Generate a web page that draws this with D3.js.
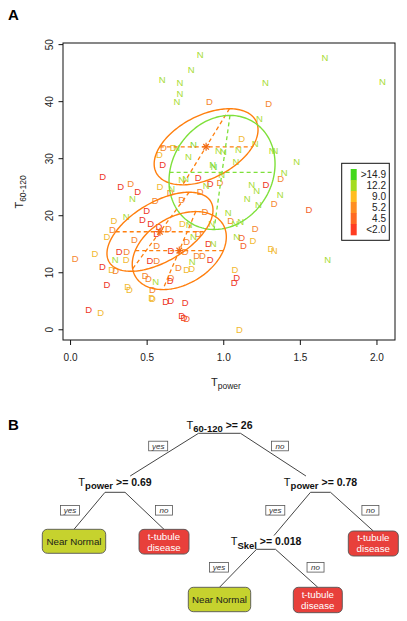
<!DOCTYPE html>
<html><head><meta charset="utf-8">
<script src="https://cdn.jsdelivr.net/npm/d3@7"></script>
<style>body{margin:0;background:#fff} svg{display:block;font-family:"Liberation Sans",Arial,Helvetica,sans-serif}</style>
</head><body><svg id="c" width="407" height="621"></svg>
<script>
// ---------- DATA ----------
// Diseased ("D") samples: Tpower, T60-120, colour level (0 red <2.0 ... 3 yellow 9.0)
const dX = [0.909,1.297,1.121,0.609,0.674,0.583,0.605,0.837,0.213,0.331,0.396,0.442,0.587,0.914,0.979,0.653,0.849,0.729,0.555,1.279,1.375,1.332,1.560,0.881,0.501,0.472,0.527,0.581,0.287,0.276,0.642,0.733,1.049,1.208,0.566,0.837,0.762,0.240,0.420,0.566,0.659,0.751,0.827,0.864,0.914,0.320,0.370,0.366,0.522,0.566,0.707,0.762,0.794,0.163,0.033,0.272,0.298,0.211,0.490,0.511,0.659,0.653,0.377,0.387,0.240,0.537,0.533,0.537,0.625,0.657,0.751,0.122,0.200,0.729,0.744,0.762,0.903,1.121,1.193,1.131,1.312,1.077,1.088,1.072,1.105];
const dY = [40.0,39.6,33.4,31.9,31.8,30.6,28.8,26.6,26.7,25.0,25.5,24.1,25.0,25.6,25.8,23.9,24.1,22.7,22.6,25.4,26.5,22.1,21.0,20.6,20.9,19.3,18.6,18.0,19.1,17.5,17.7,18.6,19.0,17.6,16.8,16.7,15.4,16.2,15.8,14.6,13.8,13.7,13.0,13.0,12.3,13.7,13.6,12.3,12.0,12.1,10.9,10.5,10.7,13.2,12.4,10.4,10.3,11.0,9.5,8.9,9.1,8.6,7.5,7.0,7.9,6.9,5.6,5.3,4.8,5.0,4.6,3.5,2.9,2.4,2.1,1.9,15.1,16.0,15.5,14.6,14.2,10.4,9.1,8.2,0.0];
const dLevel = [2,2,3,2,3,3,0,0,0,0,2,0,3,0,2,2,2,2,2,0,2,2,1,2,0,0,0,0,3,2,2,3,2,2,0,2,2,3,2,2,0,2,2,2,0,0,2,3,0,2,2,3,3,3,2,3,2,0,2,2,2,0,3,3,0,2,3,3,0,0,0,0,3,0,0,1,0,1,3,1,3,3,0,0,3];
// Near-normal ("N") samples
const nX = [0.849,0.790,0.601,0.718,0.718,0.698,1.664,2.039,1.275,1.236,1.208,0.696,0.805,0.772,0.968,1.001,1.099,1.320,1.338,1.480,1.082,0.931,0.940,0.990,0.729,0.755,1.397,1.186,1.219,0.888,0.664,1.371,1.157,1.229,0.407,0.366,1.033,1.077,1.114,0.925,0.777,0.805,1.088,0.935,0.294,0.798,0.559,1.332,1.682];
const nY = [48.2,45.5,43.7,43.2,41.3,39.9,47.6,43.4,43.2,36.9,32.6,31.8,32.3,30.3,31.3,31.2,31.5,31.3,31.3,29.4,29.4,28.8,28.6,27.2,26.2,26.5,27.5,25.3,24.4,25.2,24.7,23.6,23.0,21.8,22.9,19.8,20.4,18.6,18.9,18.5,18.3,16.2,16.2,15.0,12.2,11.9,8.4,13.8,12.2];
const nLevel = [4,4,4,4,4,4,4,4,4,4,4,4,5,4,4,4,4,4,4,4,4,5,5,4,4,4,4,4,4,4,4,4,4,4,4,4,4,4,4,4,4,4,4,4,4,4,4,3,4];

// Data ellipses: centre, x/y radius, correlation
const ellCx = [0.888, 0.992, 0.587, 0.713];
const ellCy = [32.0, 27.5, 17.1, 13.8];
const ellAx = [0.339, 0.346, 0.346, 0.307];
const ellAy = [6.67, 10.0, 6.93, 6.84];
const ellR  = [0.45, 0.15, 0.55, 0.35];
const ellGroup = ["D","N","D","D"];

const xTicks = [0, 0.5, 1.0, 1.5, 2.0];
const yTicks = [0, 10, 20, 30, 40, 50];
const legendLabels = [">14.9","12.2","9.0","5.2","4.5","<2.0"];
const levelColors = ["#ee3526","#f4632b","#f5862d","#f2b930","#a7dc34","#7cda30"];
const legendColors = ["#44d81c","#a4dc20","#ffbd20","#ff8e22","#ff6a22","#ff3d22"];

// Decision tree
const treeNodes = [
  {id:1, parent:null, edge:null, sub:"60-120", rule:">= 26"},
  {id:2, parent:1, edge:"yes", sub:"power", rule:">= 0.69"},
  {id:3, parent:1, edge:"no", sub:"power", rule:">= 0.78"},
  {id:4, parent:2, edge:"yes", leaf:["Near Normal"], cls:"normal"},
  {id:5, parent:2, edge:"no", leaf:["t-tubule","disease"], cls:"disease"},
  {id:6, parent:3, edge:"yes", sub:"Skel", rule:">= 0.018"},
  {id:7, parent:3, edge:"no", leaf:["t-tubule","disease"], cls:"disease"},
  {id:12, parent:6, edge:"yes", leaf:["Near Normal"], cls:"normal"},
  {id:13, parent:6, edge:"no", leaf:["t-tubule","disease"], cls:"disease"}
];

// ---------- DRAW ----------
const svg = d3.select("#c");
const FONT = '"Liberation Sans",Arial,Helvetica,sans-serif';

// panel letters
svg.append("text").attr("x",8).attr("y",19.5).attr("font-size",15).attr("font-weight","bold").text("A");
svg.append("text").attr("x",8).attr("y",429.5).attr("font-size",15).attr("font-weight","bold").text("B");

const L=63, R=395, T=43, B=340;
const x = d3.scaleLinear().domain([-0.046, 2.121]).range([L, R]);
const y = d3.scaleLinear().domain([-1.88, 50.2]).range([B, T]);

// axes
const gx = svg.append("g").attr("transform",`translate(0,${B})`)
  .call(d3.axisBottom(x).tickValues(xTicks).tickFormat(d3.format(".1f")).tickSize(5).tickPadding(9));
gx.select(".domain").remove();
gx.selectAll("text").attr("font-size",10).attr("font-family",FONT).attr("fill","#222");
gx.selectAll("line").attr("stroke","#111");

const gy = svg.append("g").attr("transform",`translate(${L},0)`)
  .call(d3.axisLeft(y).tickValues(yTicks).tickSize(4.5));
gy.select(".domain").remove();
gy.selectAll("line").attr("stroke","#111");
gy.selectAll("text").attr("font-size",10).attr("font-family",FONT).attr("fill","#222")
  .attr("x",0).attr("dy",0).attr("text-anchor","middle")
  .attr("transform","translate(-10.5,0) rotate(-90)");

// points
const pts = svg.append("g").attr("font-size",9.5).attr("font-family",FONT).attr("text-anchor","middle");
pts.selectAll(".d").data(dX).join("text")
  .attr("x",(d,i)=>x(d)).attr("y",(d,i)=>y(dY[i])).attr("dy","0.36em")
  .attr("fill",(d,i)=>levelColors[dLevel[i]]).text("D");
pts.selectAll(".n").data(nX).join("text")
  .attr("x",(d,i)=>x(d)).attr("y",(d,i)=>y(nY[i])).attr("dy","0.36em")
  .attr("fill",(d,i)=>levelColors[nLevel[i]]).text("N");

// ellipses
const ellColor = {D:"#ff7f0e", N:"#7ee03a"};
const eg = svg.append("g").attr("fill","none");
ellCx.forEach((cx,i)=>{
  const cy=ellCy[i], ax=ellAx[i], ay=ellAy[i], r=ellR[i], s=Math.sqrt(1-r*r);
  const col = ellColor[ellGroup[i]];
  const ts = d3.range(0, 2*Math.PI, Math.PI/90);
  const line = d3.line().curve(d3.curveLinearClosed)
    .x(t=>x(cx+ax*Math.cos(t))).y(t=>y(cy+ay*(r*Math.cos(t)+s*Math.sin(t))));
  eg.append("path").attr("d",line(ts)).attr("stroke",col).attr("stroke-width",1.4);
  eg.append("line").attr("x1",x(cx-ax*s)).attr("x2",x(cx+ax*s)).attr("y1",y(cy)).attr("y2",y(cy))
    .attr("stroke",col).attr("stroke-width",1.3).attr("stroke-dasharray","4,3");
  eg.append("line").attr("x1",x(cx+ax*r)).attr("y1",y(cy+ay)).attr("x2",x(cx-ax*r)).attr("y2",y(cy-ay))
    .attr("stroke",col).attr("stroke-width",1.3).attr("stroke-dasharray","4,3");
  if (ellGroup[i]==="D") {
    const px=x(cx), py=y(cy), h=4;
    const star = eg.append("g").attr("stroke","#f26a14").attr("stroke-width",1.2);
    [[h,0],[0,h],[h*0.7,h*0.7],[h*0.7,-h*0.7]].forEach(([a,b])=>{
      star.append("line").attr("x1",px-a).attr("y1",py-b).attr("x2",px+a).attr("y2",py+b);
    });
  }
});

// frame
svg.append("rect").attr("x",L).attr("y",T).attr("width",R-L).attr("height",B-T)
  .attr("fill","none").attr("stroke","#111").attr("stroke-width",1);

// axis titles
const xt = svg.append("text").attr("x",226).attr("y",385.5).attr("text-anchor","middle").attr("font-size",11).attr("fill","#222");
xt.append("tspan").text("T");
xt.append("tspan").attr("font-size",8.5).attr("dy",3).text("power");
const yt = svg.append("text").attr("transform","translate(23,192) rotate(-90)").attr("text-anchor","middle").attr("font-size",11).attr("fill","#222");
yt.append("tspan").text("T");
yt.append("tspan").attr("font-size",8.5).attr("dy",3).text("60-120");

// legend
const lg = svg.append("g");
lg.append("rect").attr("x",341.7).attr("y",163.3).attr("width",47.6).attr("height",77)
  .attr("fill","#fff").attr("stroke","#111").attr("stroke-width",1);
const ly = d3.scaleBand().domain(legendLabels).range([169,235]);
lg.selectAll(".sw").data(legendLabels).join("rect")
  .attr("x",350.7).attr("y",d=>ly(d)).attr("width",6).attr("height",ly.bandwidth()+0.3)
  .attr("fill",(d,i)=>legendColors[i]);
lg.selectAll(".lt").data(legendLabels).join("text")
  .attr("x",386).attr("y",d=>ly(d)+ly.bandwidth()/2).attr("dy","0.36em")
  .attr("text-anchor","end").attr("font-size",10).attr("fill","#222").text(d=>d);

// ---------- TREE ----------
const layout = {
  1:{x:219.5, y:428.5, barY:433.3, bar:21},
  2:{x:115, y:485.5, barY:492.3, bar:10},
  3:{x:320.5, y:485.5, barY:492.3, bar:10},
  6:{x:266, y:545, barY:549.3, bar:9.5},
  4:{x:74, y:541.3, w:63.4, h:24},
  5:{x:164, y:541.7, w:50, h:24.7},
  7:{x:373.3, y:543.5, w:50, h:25},
  12:{x:219.5, y:599.5, w:62.4, h:24.4},
  13:{x:317.8, y:600, w:49, h:25.4}
};
const tg = svg.append("g").attr("font-family",FONT);
const byId = Object.fromEntries(treeNodes.map(n=>[n.id,n]));

treeNodes.forEach(n=>{
  if (n.parent===null) return;
  const p = layout[n.parent], c = layout[n.id];
  const sx = n.edge==="yes" ? p.x-p.bar : p.x+p.bar, sy = p.barY;
  let ex, ey;
  if (n.leaf) { ex = c.x; ey = c.y - c.h/2; }
  else { const clip = c.y-9.5; const t=(clip-sy)/(c.y-sy); ex = sx + t*(c.x-sx); ey = clip; }
  tg.append("line").attr("x1",sx).attr("y1",sy).attr("x2",ex).attr("y2",ey)
    .attr("stroke","#444").attr("stroke-width",1);
  // yes/no tag
  const dy = n.parent===1 ? 12.7 : 18;
  const ly2 = sy+dy;
  const lx = sx + (ex-sx)*(dy/(ey-sy)) + (n.edge==="yes" ? -20 : 20);
  const w = n.edge==="yes" ? 19 : 17;
  tg.append("rect").attr("x",lx-w/2).attr("y",ly2-4.8).attr("width",w).attr("height",9.6)
    .attr("fill","#fff").attr("stroke","#555").attr("stroke-width",0.8);
  tg.append("text").attr("x",lx).attr("y",ly2).attr("dy","0.34em").attr("text-anchor","middle")
    .attr("font-size",8).attr("font-style","italic").attr("fill","#333").text(n.edge);
});

treeNodes.forEach(n=>{
  const c = layout[n.id];
  if (n.leaf) {
    tg.append("rect").attr("x",c.x-c.w/2).attr("y",c.y-c.h/2).attr("width",c.w).attr("height",c.h)
      .attr("rx",5).attr("fill",n.cls==="normal"?"#c6d22e":"#e8403b").attr("stroke","#555").attr("stroke-width",0.9);
    const lines = n.leaf;
    lines.forEach((s,k)=>{
      tg.append("text").attr("x",c.x).attr("y",c.y + (k-(lines.length-1)/2)*11).attr("dy","0.35em")
        .attr("text-anchor","middle").attr("font-size",9.7)
        .attr("fill",n.cls==="normal"?"#1a1a1a":"#fff").text(s);
    });
  } else {
    const t = tg.append("text").attr("x",c.x).attr("y",c.y).attr("text-anchor","middle").attr("fill","#111");
    t.append("tspan").attr("font-size",11).text("T");
    t.append("tspan").attr("font-size",9.5).attr("font-weight","bold").attr("dy",3.5).text(n.sub);
    t.append("tspan").attr("font-size",10.5).attr("font-weight","bold").attr("dy",-3.5).text(" " + n.rule);
    tg.append("line").attr("x1",c.x-c.bar).attr("x2",c.x+c.bar).attr("y1",c.barY).attr("y2",c.barY)
      .attr("stroke","#444").attr("stroke-width",1);
  }
});
</script>
</body></html>
